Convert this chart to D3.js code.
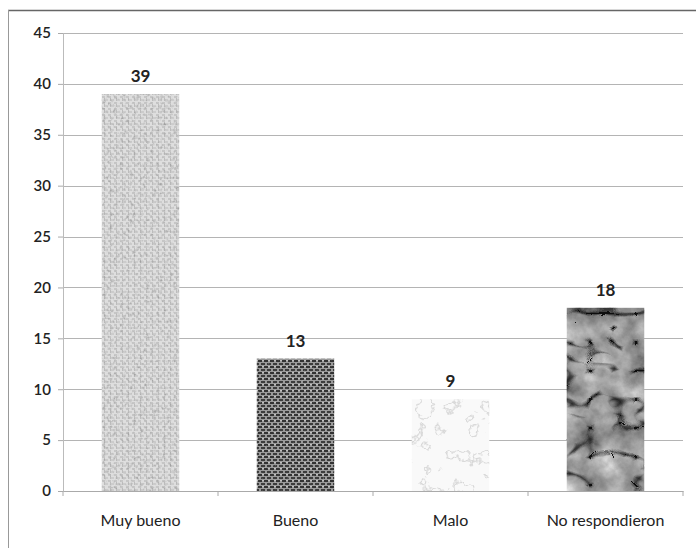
<!DOCTYPE html>
<html>
<head>
<meta charset="utf-8">
<script src="https://cdn.jsdelivr.net/npm/d3@7"></script>
<style>
  html, body { margin: 0; padding: 0; background: #fff; }
  svg { display: block; }
  text { font-family: Lato, "Open Sans", sans-serif; fill: #222; }
</style>
</head>
<body>
<svg id="chart" width="696" height="548"></svg>
<script>
// Respuestas por categoría
const categories = ["Muy bueno", "Bueno", "Malo", "No respondieron"];
const counts = [39, 13, 9, 18];
const yTicks = [0, 5, 10, 15, 20, 25, 30, 35, 40, 45];

const W = 696, H = 548;
const margin = { left: 63, right: 13, top: 33, bottom: 57 };

const svg = d3.select("#chart");
const defs = svg.append("defs");

// Filter that paints noise tone (grey value g, alpha from a lookup table on the noise)
function toneFilter(id, opts) {
  const f = defs.append("filter").attr("id", id)
    .attr("x", 0).attr("y", 0).attr("width", 1).attr("height", 1)
    .attr("color-interpolation-filters", "sRGB");
  f.append("feTurbulence").attr("type", opts.type || "fractalNoise")
    .attr("baseFrequency", opts.freq).attr("numOctaves", opts.octaves).attr("seed", opts.seed)
    .attr("result", "noise");
  f.append("feColorMatrix").attr("in", "noise").attr("type", "matrix")
    .attr("values", opts.matrix).attr("result", "tone");
  const ct = f.append("feComponentTransfer").attr("in", "tone").attr("result", "mapped");
  if (opts.alphaTable) ct.append("feFuncA").attr("type", "table").attr("tableValues", opts.alphaTable);
  if (opts.grayTable) {
    ["feFuncR", "feFuncG", "feFuncB"].forEach(n =>
      ct.append(n).attr("type", "table").attr("tableValues", opts.grayTable));
  }
  f.append("feComposite").attr("in", "mapped")
    .attr("in2", "SourceGraphic").attr("operator", "in");
}

// Muy bueno: pale grey woven grain
const p1 = defs.append("pattern").attr("id", "weaveLight")
  .attr("patternUnits", "userSpaceOnUse").attr("width", 6).attr("height", 6);
p1.append("rect").attr("width", 6).attr("height", 6).attr("fill", "#dedede");
p1.append("rect").attr("x", 0).attr("y", 0).attr("width", 3).attr("height", 2).attr("fill", "#c6c6c6");
p1.append("rect").attr("x", 3).attr("y", 3).attr("width", 3).attr("height", 2).attr("fill", "#cccccc");
p1.append("rect").attr("x", 2).attr("y", 2).attr("width", 1).attr("height", 3).attr("fill", "#bcbcbc");

// Bueno: dark burlap weave
const p2 = defs.append("pattern").attr("id", "burlap")
  .attr("patternUnits", "userSpaceOnUse").attr("width", 6).attr("height", 6);
p2.append("rect").attr("width", 6).attr("height", 6).attr("fill", "#9a9a9a");
p2.append("rect").attr("x", 0).attr("y", 0).attr("width", 4).attr("height", 2).attr("fill", "#333");
p2.append("rect").attr("x", 3).attr("y", 3).attr("width", 4).attr("height", 2).attr("fill", "#3c3c3c");
p2.append("rect").attr("x", 0).attr("y", 3).attr("width", 1).attr("height", 2).attr("fill", "#3c3c3c");
p2.append("rect").attr("x", 4).attr("y", 0).attr("width", 2).attr("height", 1).attr("fill", "#c0c0c0");

// Grain overlays for the woven fills
toneFilter("grainLight", { freq: "0.3", octaves: 2, seed: 3,
  matrix: "0 0 0 0 0.5  0 0 0 0 0.5  0 0 0 0 0.5  1 0 0 0 0",
  alphaTable: "0 0 0 0 0.15 0.45 0.7" });
toneFilter("grainDark", { freq: "0.4", octaves: 2, seed: 7,
  matrix: "0 0 0 0 0.85  0 0 0 0 0.85  0 0 0 0 0.85  1 0 0 0 0",
  alphaTable: "0 0 0 0 0 0.3 0.7" });

// Malo: faint pencil-like scribbles on near-white
toneFilter("sketch", { type: "fractalNoise", freq: "0.06", octaves: 4, seed: 11,
  matrix: "0 0 0 0 0.6  0 0 0 0 0.6  0 0 0 0 0.6  1 0 0 0 0",
  alphaTable: "0 0 0 0 0 0 0 0.35 0 0 0 0 0 0 0 0 0 0 0 0" });

// No respondieron: crumpled paper with dark creases
toneFilter("crumple", { freq: "0.04", octaves: 5, seed: 21,
  matrix: "1 0 0 0 0  1 0 0 0 0  1 0 0 0 0  0 0 0 0 1",
  grayTable: "0.25 0.38 0.5 0.58 0.66 0.74 0.84 0.94" });
toneFilter("cracks", { type: "turbulence", freq: "0.022 0.035", octaves: 2, seed: 5,
  matrix: "0 0 0 0 0.1  0 0 0 0 0.1  0 0 0 0 0.1  1 0 0 0 0",
  alphaTable: "0.9 0.65 0.25 0 0 0 0 0 0 0 0 0 0 0 0 0 0 0 0 0" });

// Scales
const x = d3.scaleBand().domain(categories)
  .range([margin.left, W - margin.right]).paddingInner(0.5).paddingOuter(0.25);
const y = d3.scaleLinear().domain([0, 45]).range([H - margin.bottom, margin.top]);

// Outer frame
svg.append("line").attr("x1", 8).attr("x2", W).attr("y1", 10.5).attr("y2", 10.5)
  .attr("stroke", "#666").attr("stroke-width", 1.5);
svg.append("line").attr("x1", 8.5).attr("x2", 8.5).attr("y1", 10).attr("y2", H)
  .attr("stroke", "#999").attr("stroke-width", 1);

// Gridlines
svg.append("g").selectAll("line").data(yTicks.filter(d => d > 0)).join("line")
  .attr("x1", margin.left).attr("x2", W - margin.right)
  .attr("y1", d => Math.round(y(d)) + 0.5).attr("y2", d => Math.round(y(d)) + 0.5)
  .attr("stroke", "#b4b4b4").attr("stroke-width", 1);

// Y axis
const yAxis = svg.append("g").attr("transform", `translate(${margin.left},0)`)
  .call(d3.axisLeft(y).tickValues(yTicks).tickSize(5).tickPadding(8));
yAxis.select(".domain").attr("stroke", "#bbb");
yAxis.selectAll(".tick line").attr("stroke", "#aaa");
yAxis.selectAll(".tick text").attr("font-size", 15).attr("font-weight", 600)
  .style("font-family", "Lato, sans-serif").attr("fill", "#2a2a2a")
  .attr("x", -12);
yAxis.selectAll(".tick").filter(d => d === 0).select("text").attr("fill", "#777");

// X axis
const xAxis = svg.append("g").attr("transform", `translate(0,${y(0)})`)
  .call(d3.axisBottom(x).tickSize(0).tickPadding(24));
xAxis.select(".domain").attr("stroke", "#aaa");
xAxis.selectAll(".tick text").attr("font-size", 16)
  .style("font-family", "Lato, sans-serif").attr("fill", "#1e1e1e");
// category boundary ticks
const bounds = d3.range(categories.length + 1)
  .map(i => margin.left + i * (W - margin.right - margin.left) / categories.length);
svg.append("g").selectAll("line").data(bounds).join("line")
  .attr("x1", d => d).attr("x2", d => d)
  .attr("y1", y(0)).attr("y2", y(0) + 5)
  .attr("stroke", "#aaa");

// Bars
const bars = svg.append("g");
categories.forEach((c, i) => {
  const bx = x(c), bw = x.bandwidth(), by = y(counts[i]), bh = y(0) - y(counts[i]);
  const g = bars.append("g");
  const layer = () => g.append("rect").attr("x", bx).attr("y", by).attr("width", bw).attr("height", bh);
  if (i === 0) {
    layer().attr("fill", "url(#weaveLight)");
    layer().attr("fill", "#000").attr("filter", "url(#grainLight)");
  } else if (i === 1) {
    layer().attr("fill", "url(#burlap)");
    layer().attr("fill", "#000").attr("filter", "url(#grainDark)");
  } else if (i === 2) {
    layer().attr("fill", "#f9f9f9");
    layer().attr("fill", "#000").attr("filter", "url(#sketch)");
  } else {
    layer().attr("fill", "#000").attr("filter", "url(#crumple)");
    layer().attr("fill", "#000").attr("filter", "url(#cracks)");
  }
});

// Value labels
svg.append("g").selectAll("text").data(categories).join("text")
  .attr("x", d => x(d) + x.bandwidth() / 2)
  .attr("y", (d, i) => y(counts[i]) - 12)
  .attr("text-anchor", "middle")
  .attr("font-size", 17).attr("font-weight", 700)
  .attr("fill", "#222")
  .text((d, i) => counts[i]);
</script>
</body>
</html>
